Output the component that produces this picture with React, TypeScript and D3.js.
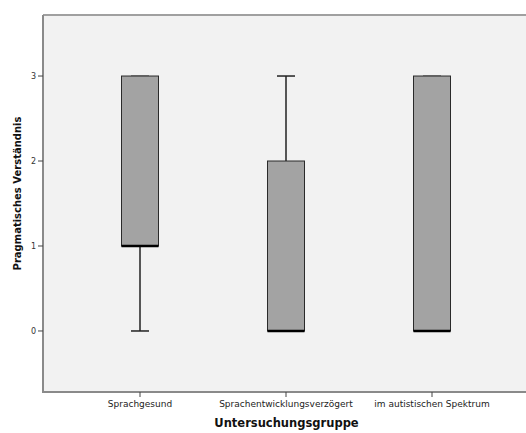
import React from "react";
import * as d3 from "d3";

// Groups and five-number summaries of "Pragmatisches Verständnis"
const categories = ["Sprachgesund", "Sprachentwicklungsverzögert", "im autistischen Spektrum"];
const whiskerLow = [0, 0, 0];
const quartile1 = [1, 0, 0];
const medians = [1, 0, 0];
const quartile3 = [3, 2, 3];
const whiskerHigh = [3, 3, 3];
const yTicks = [0, 1, 2, 3];

const W = 526;
const H = 433;
const plot = { left: 43, right: 526, top: 15, bottom: 392 };

const FONT = "'DejaVu Sans', Verdana, sans-serif";

export default function App() {
  const x = d3.scaleBand<string>().domain(categories).range([67, 505]);
  const y = d3.scaleLinear().domain([-0.718, 3.718]).range([plot.bottom, plot.top]);

  const boxW = 37;
  const capW = 18;

  const boxes = categories.map((c, i) => ({
    c,
    cx: (x(c) as number) + x.bandwidth() / 2,
    lo: whiskerLow[i],
    q1: quartile1[i],
    med: medians[i],
    q3: quartile3[i],
    hi: whiskerHigh[i],
  }));

  return (
    <svg
      width={W}
      height={H}
      style={{ position: "absolute", left: 0, top: 0, background: "#ffffff" }}
    >
      {/* plot background */}
      <rect
        x={plot.left}
        y={plot.top}
        width={plot.right - plot.left}
        height={plot.bottom - plot.top}
        fill="#f2f2f2"
      />
      {/* frame */}
      <line x1={plot.left} x2={plot.right} y1={plot.top} y2={plot.top} stroke="#a0a0a0" strokeWidth={2} />
      <line x1={plot.left} x2={plot.left} y1={plot.top} y2={plot.bottom} stroke="#8a8a8a" strokeWidth={2} />
      <line x1={plot.left - 1} x2={plot.right} y1={plot.bottom} y2={plot.bottom} stroke="#8a8a8a" strokeWidth={2} />

      {/* y axis ticks */}
      {yTicks.map((t) => (
        <g key={t}>
          <line x1={plot.left - 5} x2={plot.left} y1={y(t)} y2={y(t)} stroke="#444" strokeWidth={1} />
          <text
            x={plot.left - 7}
            y={y(t)}
            dy="0.35em"
            textAnchor="end"
            fontFamily={FONT}
            fontSize={8}
            fill="#333"
          >
            {t}
          </text>
        </g>
      ))}

      {/* x axis ticks */}
      {boxes.map((b) => (
        <g key={b.c}>
          <line x1={b.cx} x2={b.cx} y1={plot.bottom} y2={plot.bottom + 5} stroke="#444" strokeWidth={1} />
          <text
            x={b.cx}
            y={plot.bottom + 15}
            textAnchor="middle"
            fontFamily={FONT}
            fontSize={9}
            fill="#222"
          >
            {b.c}
          </text>
        </g>
      ))}

      {/* boxes */}
      {boxes.map((b) => (
        <g key={"box-" + b.c}>
          {b.hi > b.q3 && (
            <line x1={b.cx} x2={b.cx} y1={y(b.q3)} y2={y(b.hi)} stroke="#222" strokeWidth={1.5} />
          )}
          {b.lo < b.q1 && (
            <line x1={b.cx} x2={b.cx} y1={y(b.q1)} y2={y(b.lo)} stroke="#222" strokeWidth={1.5} />
          )}
          <line
            x1={b.cx - capW / 2}
            x2={b.cx + capW / 2}
            y1={y(b.hi)}
            y2={y(b.hi)}
            stroke={b.hi > b.q3 ? "#222" : "#777"}
            strokeWidth={1.5}
          />
          <line
            x1={b.cx - capW / 2}
            x2={b.cx + capW / 2}
            y1={y(b.lo)}
            y2={y(b.lo)}
            stroke="#222"
            strokeWidth={1.5}
          />
          <rect
            x={b.cx - boxW / 2}
            y={y(b.q3)}
            width={boxW}
            height={y(b.q1) - y(b.q3)}
            fill="#a3a3a3"
            stroke="#2a2a2a"
            strokeWidth={1}
          />
          <line
            x1={b.cx - boxW / 2}
            x2={b.cx + boxW / 2}
            y1={y(b.med)}
            y2={y(b.med)}
            stroke="#000"
            strokeWidth={2.5}
          />
        </g>
      ))}

      {/* axis titles */}
      <text
        x={(plot.left + plot.right) / 2 + 2}
        y={plot.bottom + 35}
        textAnchor="middle"
        fontFamily={FONT}
        fontWeight="bold"
        fontSize={11.5}
        fill="#111"
      >
        Untersuchungsgruppe
      </text>
      <text
        transform={`translate(21, ${(plot.top + plot.bottom) / 2 - 10}) rotate(-90)`}
        textAnchor="middle"
        fontFamily={FONT}
        fontWeight="bold"
        fontSize={10}
        fill="#111"
      >
        Pragmatisches Verständnis
      </text>
    </svg>
  );
}
